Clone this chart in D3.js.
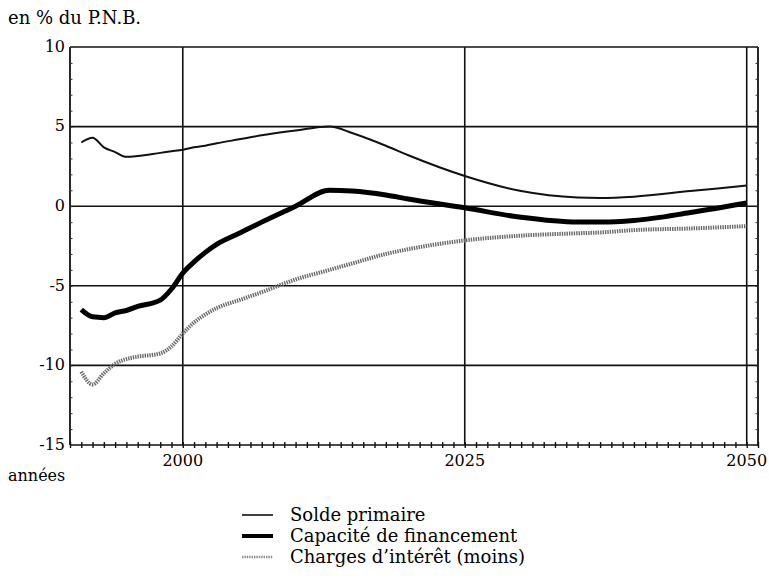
<!DOCTYPE html>
<html>
<head>
<meta charset="utf-8">
<script src="https://cdnjs.cloudflare.com/ajax/libs/d3/7.8.5/d3.min.js"></script>
<style>
  body { margin: 0; background: #fff; }
  svg text { font-family: "DejaVu Serif", "Liberation Serif", serif; fill: #000; }
</style>
</head>
<body>
<div class="chart"></div>
<script>
// values (en % du P.N.B.)
var years = [1991, 1992, 1993, 1994, 1995, 1996, 1998, 1999, 2000, 2001, 2002, 2003, 2005, 2007,
             2010, 2013, 2015, 2018, 2020, 2025, 2030, 2035, 2037, 2040, 2045, 2050];
var soldePrimaire = [4.0, 4.3, 3.7, 3.4, 3.1, 3.15, 3.35, 3.45, 3.55, 3.7, 3.8, 3.95, 4.2, 4.45,
                     4.75, 5.0, 4.6, 3.8, 3.2, 1.9, 0.95, 0.55, 0.52, 0.6, 0.95, 1.3];
var capacite = [-6.5, -6.95, -7.0, -6.7, -6.55, -6.3, -5.9, -5.2, -4.2, -3.5, -2.9, -2.4, -1.7, -1.0,
                0.0, 1.0, 0.95, 0.7, 0.45, -0.1, -0.7, -1.0, -1.0, -0.9, -0.4, 0.2];
var charges = [-10.4, -11.2, -10.5, -9.9, -9.6, -9.45, -9.25, -8.8, -8.0, -7.3, -6.8, -6.4, -5.9, -5.4,
               -4.6, -4.0, -3.6, -3.0, -2.7, -2.15, -1.85, -1.7, -1.65, -1.5, -1.4, -1.25];
var yTicks = [10, 5, 0, -5, -10, -15];
var xTicks = [2000, 2025, 2050];
var legendLabels = ["Solde primaire", "Capacité de financement", "Charges d\u2019intérêt (moins)"];

var svgWidth = 769;
var svgHeight = 583;
var margin = { top: 47, right: 11, bottom: 138, left: 70 };
var width = svgWidth - margin.left - margin.right;
var height = svgHeight - margin.top - margin.bottom;

var svg = d3.select(".chart")
  .append("svg")
  .attr("width", svgWidth)
  .attr("height", svgHeight);

var chart = svg.append("g")
  .attr("transform", "translate(" + margin.left + "," + margin.top + ")");

var xScale = d3.scaleLinear().domain([1990, 2051]).range([0, width]);
var yScale = d3.scaleLinear().domain([-15, 10]).range([height, 0]);

// horizontal grid lines
chart.selectAll(".hgrid")
  .data(yTicks)
  .enter()
  .append("line")
  .attr("x1", 0)
  .attr("x2", width)
  .attr("y1", function(d) { return yScale(d); })
  .attr("y2", function(d) { return yScale(d); })
  .attr("stroke", "#111")
  .attr("stroke-width", 1.6);

// vertical grid lines
chart.selectAll(".vgrid")
  .data(xTicks)
  .enter()
  .append("line")
  .attr("x1", function(d) { return xScale(d); })
  .attr("x2", function(d) { return xScale(d); })
  .attr("y1", 0)
  .attr("y2", height)
  .attr("stroke", "#111")
  .attr("stroke-width", 1.6);

// frame left / right
chart.append("line").attr("x1", 0).attr("x2", 0).attr("y1", 0).attr("y2", height)
  .attr("stroke", "#111").attr("stroke-width", 1.8);
chart.append("line").attr("x1", width).attr("x2", width).attr("y1", 0).attr("y2", height)
  .attr("stroke", "#111").attr("stroke-width", 1.8);

// yearly ticks on the bottom axis, crossing the line
var yearTicks = d3.range(1990, 2052);
chart.append("g")
  .attr("transform", "translate(0," + height + ")")
  .call(d3.axisBottom(xScale).tickValues(yearTicks).tickSize(0).tickFormat(""))
  .call(function(g) { g.select(".domain").remove(); })
  .selectAll(".tick")
  .append("line")
  .attr("y1", -3)
  .attr("y2", 3)
  .attr("stroke", "#111")
  .attr("stroke-width", 1.4);

// small unit ticks on the left and right edges
var unitTicks = d3.range(-15, 11);
chart.append("g")
  .call(d3.axisRight(yScale).tickValues(unitTicks).tickSize(2.5).tickFormat(""))
  .call(function(g) { g.select(".domain").remove(); g.selectAll("line").attr("stroke", "#333"); });
chart.append("g")
  .attr("transform", "translate(" + width + ",0)")
  .call(d3.axisLeft(yScale).tickValues(unitTicks).tickSize(2.5).tickFormat(""))
  .call(function(g) { g.select(".domain").remove(); g.selectAll("line").attr("stroke", "#333"); });

// tick labels
chart.selectAll(".ylab")
  .data(yTicks)
  .enter()
  .append("text")
  .attr("x", -5)
  .attr("y", function(d) { return yScale(d); })
  .attr("dy", "0.3em")
  .attr("text-anchor", "end")
  .style("font-size", "16px")
  .text(function(d) { return d; });

chart.selectAll(".xlab")
  .data(xTicks)
  .enter()
  .append("text")
  .attr("x", function(d) { return xScale(d); })
  .attr("y", height + 21)
  .attr("text-anchor", "middle")
  .style("font-size", "16px")
  .text(function(d) { return d; });

svg.append("text").attr("x", 8).attr("y", 24).style("font-size", "18px").text("en % du P.N.B.");
svg.append("text").attr("x", 8).attr("y", 481).style("font-size", "16px").text("années");

// the three series
var seriesList = [
  { values: soldePrimaire, stroke: "#111", width: 2, dash: null },
  { values: capacite, stroke: "#000", width: 5, dash: null },
  { values: charges, stroke: "#6a6a6a", width: 4, dash: "1.4,1" }
];

var line = d3.line()
  .x(function(d) { return xScale(d[0]); })
  .y(function(d) { return yScale(d[1]); })
  .curve(d3.curveMonotoneX);

seriesList.slice().reverse().forEach(function(s) {
  chart.append("path")
    .datum(d3.zip(years, s.values))
    .attr("fill", "none")
    .attr("stroke", s.stroke)
    .attr("stroke-width", s.width)
    .attr("stroke-dasharray", s.dash)
    .attr("stroke-linejoin", "round")
    .attr("d", line);
});

// legend
var legend = svg.append("g").attr("transform", "translate(242,515)");
legendLabels.forEach(function(label, i) {
  var s = seriesList[i];
  legend.append("line")
    .attr("x1", 0).attr("x2", 31)
    .attr("y1", i * 21).attr("y2", i * 21)
    .attr("stroke", i === 2 ? "#8a8a8a" : s.stroke)
    .attr("stroke-width", i === 2 ? 2.5 : (i === 1 ? 4 : 1.6))
    .attr("stroke-dasharray", s.dash);
  legend.append("text")
    .attr("x", 48)
    .attr("y", i * 21)
    .attr("dy", "0.35em")
    .style("font-size", "18px")
    .text(label);
});
</script>
</body>
</html>
